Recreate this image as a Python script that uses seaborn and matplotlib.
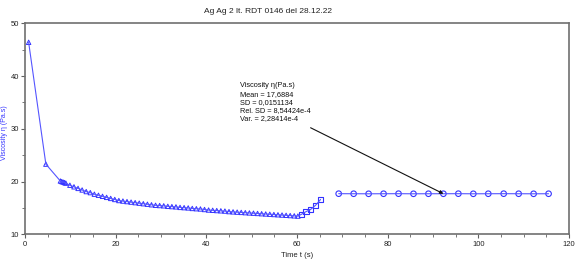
import matplotlib
matplotlib.use("Agg")
import matplotlib.pyplot as plt
import seaborn as sns
import numpy as np

# --- data ---
tri_t = [0.8, 4.6, 7.8, 8.1, 8.4, 8.7, 9.0,
         9.9, 10.8, 11.7, 12.6, 13.5, 14.4, 15.3, 16.2, 17.1, 18.0,
         18.9, 19.8, 20.7, 21.6, 22.5, 23.4, 24.3, 25.2, 26.1, 27.0,
         27.9, 28.8, 29.7, 30.6, 31.5, 32.4, 33.3, 34.2, 35.1, 36.0,
         36.9, 37.8, 38.7, 39.6, 40.5, 41.4, 42.3, 43.2, 44.1, 45.0,
         45.9, 46.8, 47.7, 48.6, 49.5, 50.4, 51.3, 52.2, 53.1, 54.0,
         54.9, 55.8, 56.7, 57.6, 58.5, 59.4, 60.2]
tri_eta = [46.4, 23.3, 20.1, 20.0, 19.9, 19.8, 19.7,
           19.3, 19.0, 18.7, 18.4, 18.1, 17.9, 17.6, 17.4, 17.2, 17.0,
           16.8, 16.6, 16.4, 16.3, 16.2, 16.1, 16.0, 15.9, 15.8, 15.7,
           15.6, 15.5, 15.45, 15.4, 15.3, 15.25, 15.2, 15.1, 15.05, 15.0,
           14.9, 14.85, 14.8, 14.7, 14.6, 14.55, 14.5, 14.45, 14.4, 14.3,
           14.25, 14.2, 14.15, 14.1, 14.05, 14.0, 13.95, 13.9, 13.85, 13.8,
           13.75, 13.7, 13.65, 13.6, 13.55, 13.5, 13.45]
sq_t = [61.0, 62.0, 63.0, 64.1, 65.2]
sq_eta = [13.8, 14.3, 14.7, 15.5, 16.6]
circ_t = [69.2, 72.5, 75.8, 79.1, 82.4, 85.7, 89.0, 92.3, 95.6, 98.9,
          102.2, 105.6, 108.9, 112.2, 115.5]
circ_eta = [17.70, 17.69, 17.68, 17.69, 17.70, 17.68, 17.69, 17.69, 17.70,
            17.68, 17.69, 17.70, 17.69, 17.68, 17.69]

title = "Ag Ag 2 lt. RDT 0146 del 28.12.22"
stats_lines = ["Viscosity \u03b7(Pa.s)", "Mean = 17,6884", "SD = 0,0151134",
               "Rel. SD = 8,54424e-4", "Var. = 2,28414e-4"]
xticks = [0, 20, 40, 60, 80, 100, 120]
yticks = [10, 20, 30, 40, 50]

sns.set_theme(style="white")
plt.rcParams['font.family'] = ['Liberation Sans', 'DejaVu Sans']

blue = "#3333ff"
line_blue = "#5555ff"
fig = plt.figure(figsize=(5.75, 2.61), dpi=100)
ax = fig.add_axes([0.0435, 0.1023, 0.946, 0.8084])

# connecting line through triangles + squares
line_t = tri_t + sq_t
line_eta = tri_eta + sq_eta
sns.lineplot(x=line_t, y=line_eta, sort=False, color=line_blue, lw=0.8, ax=ax)
sns.lineplot(x=circ_t, y=circ_eta, sort=False, color=line_blue, lw=0.8, ax=ax)

sns.scatterplot(x=tri_t, y=tri_eta, marker="^", s=10, facecolors="none",
                edgecolor=blue, linewidth=0.7, ax=ax)
sns.scatterplot(x=sq_t, y=sq_eta, marker="s", s=14, facecolors="none",
                edgecolor=blue, linewidth=0.8, ax=ax)
sns.scatterplot(x=circ_t, y=circ_eta, marker="o", s=16, facecolors="none",
                edgecolor=blue, linewidth=0.8, ax=ax)

ax.set_xlim(0, 120)
ax.set_ylim(10, 50)
ax.set_xticks(xticks)
ax.set_yticks(yticks)
ax.set_xticks(np.arange(0, 121, 5), minor=True)
ax.set_yticks(np.arange(10, 51, 5), minor=True)
ax.tick_params(axis="both", which="major", direction="out", length=3, width=0.8,
               color="#606060", labelsize=5.5, pad=1.5, labelcolor="#222222")
ax.tick_params(axis="both", which="minor", direction="out", length=2, width=0.6,
               color="#606060")
ax.tick_params(bottom=True, left=True, which="both")
for sp in ax.spines.values():
    sp.set_color("#707070")
    sp.set_linewidth(1.2)

ax.set_xlabel("Time t (s)", fontsize=5.5, color="#222222")
ax.xaxis.set_label_coords(0.5, -0.085)
ax.set_ylabel("")
fig.text(0.0075, 0.492, "Viscosity \u03b7 (Pa.s)", rotation=90, ha="center",
         va="center", fontsize=5, color=blue)
fig.text(0.466, 0.955, title, ha="center", va="center", fontsize=6, color="#222222")

ax.text(47.4, 38.8, "\n".join(stats_lines), fontsize=5.3, va="top", ha="left",
        linespacing=1.25, color="#111111")
ax.annotate("", xy=(circ_t[7], circ_eta[7]), xytext=(63.0, 30.2),
            arrowprops=dict(arrowstyle="-|>", color="#111111", lw=0.8,
                            mutation_scale=5, shrinkA=0, shrinkB=0))

fig.savefig("out.png", dpi=100)
